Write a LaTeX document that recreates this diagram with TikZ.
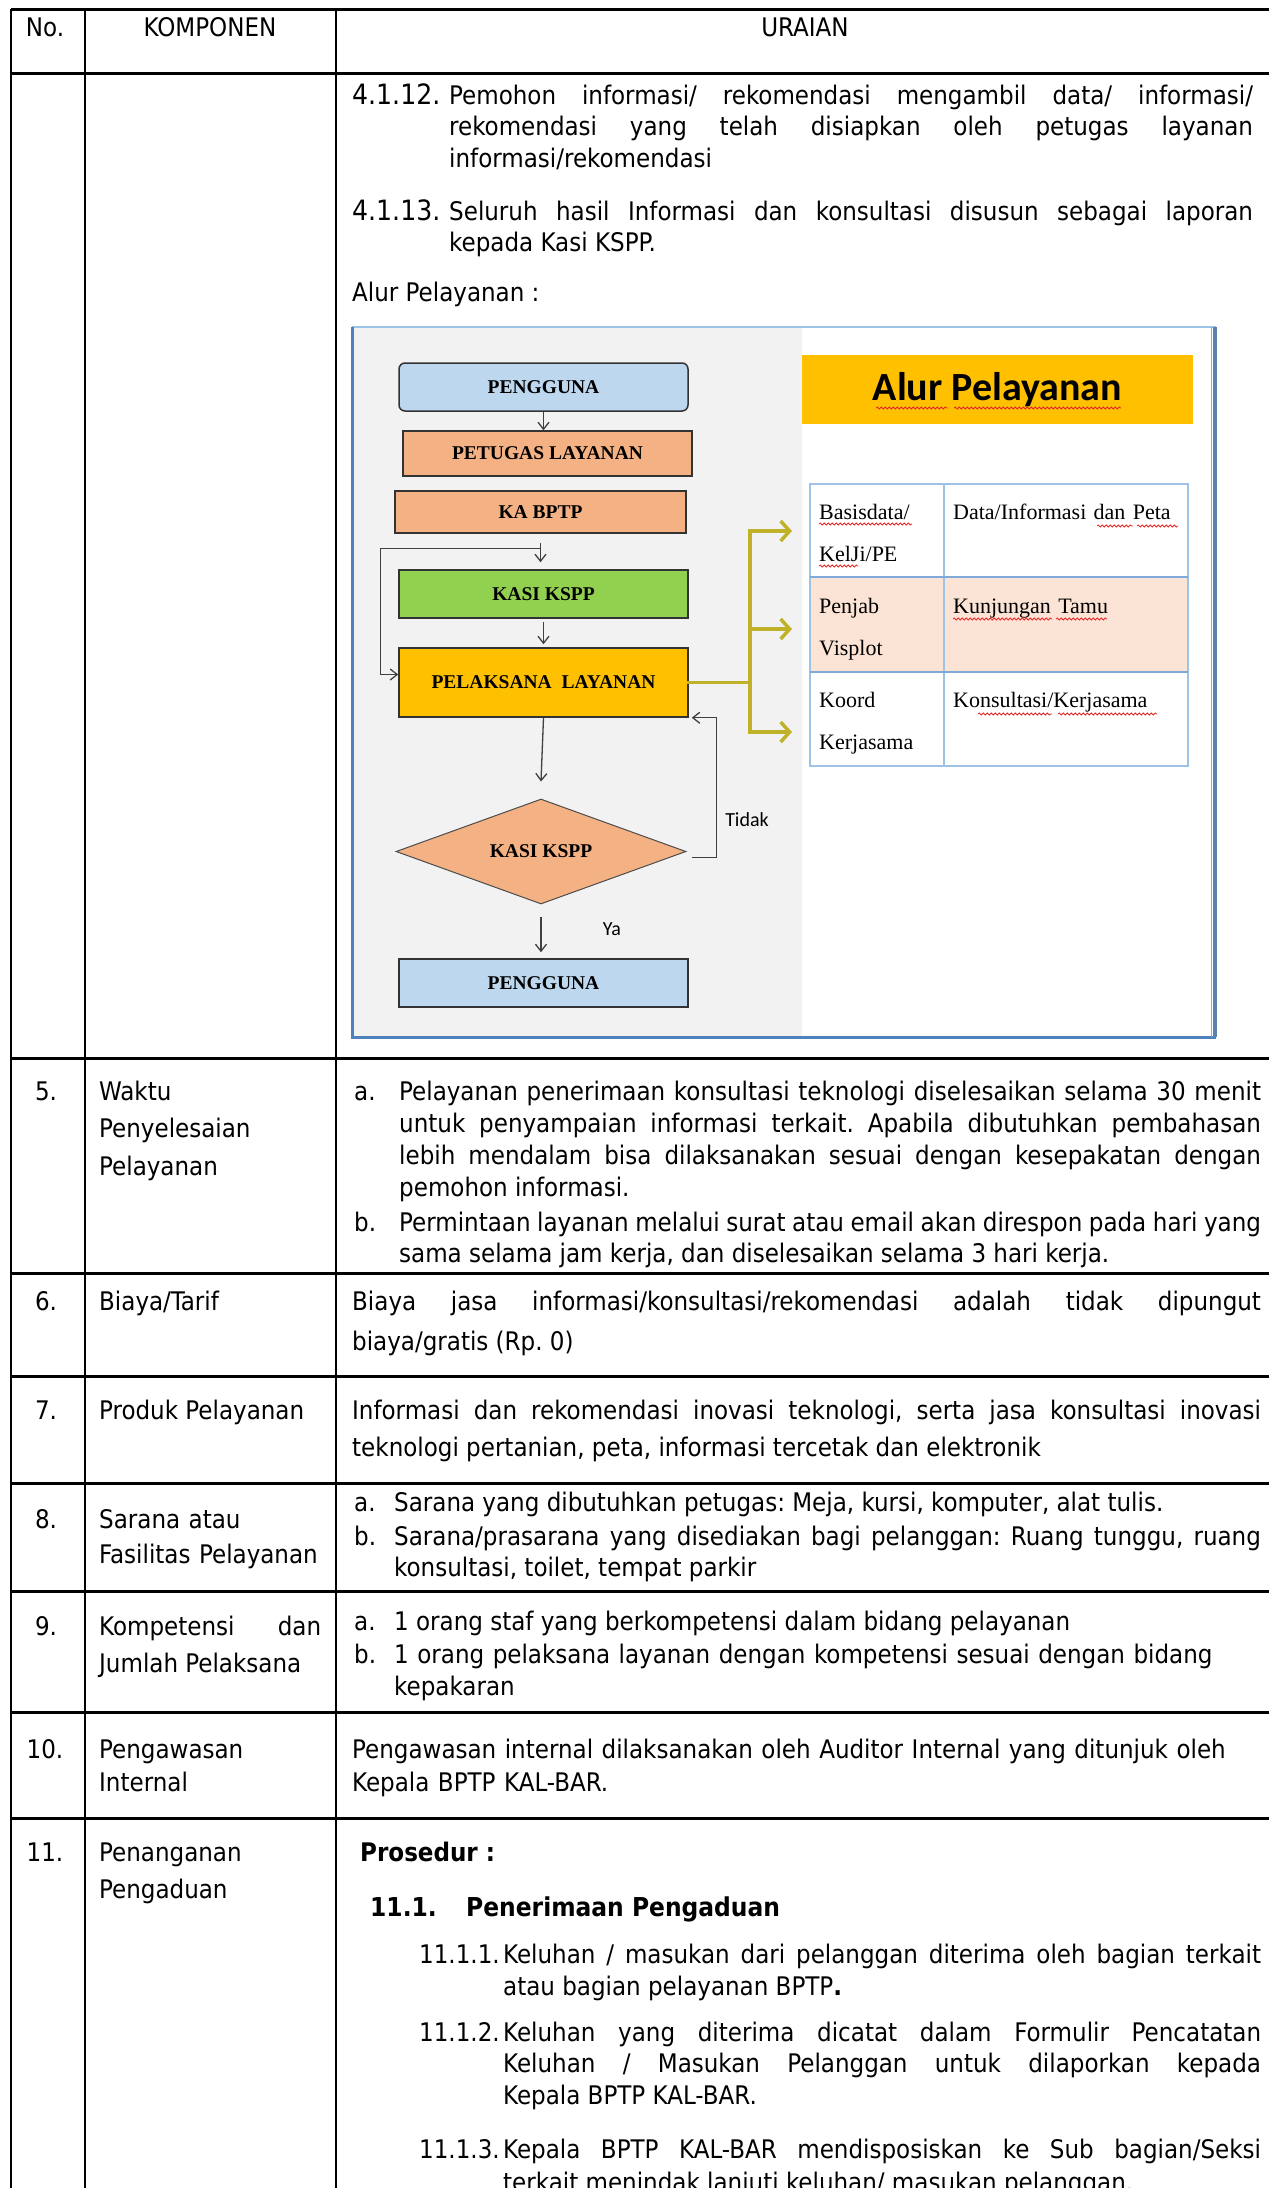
\documentclass[tikz,border=0pt]{standalone}
\usepackage{fontspec}
\setmainfont{DejaVu Sans Condensed}
\newfontfamily\cambria{Liberation Serif}
\newfontfamily\calibri{Carlito}
\usetikzlibrary{arrows.meta,positioning,shapes.geometric,decorations.pathmorphing}
\frenchspacing

\definecolor{userblue}{HTML}{BDD7EE}
\definecolor{staffpeach}{HTML}{F4B183}
\definecolor{kasigreen}{HTML}{92D050}
\definecolor{gold}{HTML}{FFC000}
\definecolor{branch}{RGB}{191,178,41}
\definecolor{panelgray}{HTML}{F2F2F2}
\definecolor{rowpeach}{HTML}{FBE4D5}
\definecolor{gridblue}{HTML}{9DC3E6}
\definecolor{gridrow}{HTML}{7FA9D8}
\definecolor{frameblue}{HTML}{4F81BD}
\definecolor{spellred}{RGB}{230,40,40}

\newcommand{\bodysize}[1]{\fontsize{25.6}{#1}\selectfont}

\begin{document}
\begin{tikzpicture}[
  x=1pt,y=-1pt,
  >={Straight Barb[length=7pt,width=11pt]},
  hrule/.style={line width=3pt},
  vrule/.style={line width=2pt},
  txt/.style={inner sep=0pt,anchor=base west,font=\bodysize{32}},
  numtxt/.style={inner sep=0pt,anchor=base,font=\bodysize{32}},
  para/.style={txt,text width=#1,align=justify},
  ragged/.style={txt,text width=#1,align=left},
  fcbox/.style={draw=black!80,line width=1.5pt,inner sep=0pt,minimum width=289pt,
    font=\cambria\bfseries\fontsize{19.5}{22}\selectfont},
  flow/.style={->,draw=black!75,line width=1.3pt},
  branchline/.style={draw=branch,line width=3.5pt,line cap=rect},
  branchto/.style={branchline,-{Straight Barb[length=9pt,width=20pt]}},
  celltxt/.style={inner sep=0pt,anchor=base west,text width=125pt,align=left,
    font=\cambria\fontsize{22}{42}\selectfont},
  squiggle/.style={draw=spellred,line width=0.8pt,decorate,
    decoration={snake,amplitude=1pt,segment length=4pt}},
  labeltxt/.style={inner sep=0pt,font=\calibri\fontsize{20}{24}\selectfont}
]
\useasboundingbox (0,0) rectangle (1269,2188);
\fill[white] (0,0) rectangle (1269,2188);

% ---- table rules ----
\foreach \y in {9,73,1058,1273,1376,1483,1591,1712,1818}
  \draw[hrule] (11,\y) -- (1269,\y);
\foreach \x in {11,85,336}
  \draw[vrule] (\x,9) -- (\x,2188);

% ---- header ----
\node[numtxt] (hNo) at (45,36) {No.};
\node[numtxt] (hKomp) at (210,36) {KOMPONEN};
\node[numtxt] (hUraian) at (805,36) {URAIAN};

% ---- row 4 (continued) ----
\node[txt,font=\fontsize{28}{32}\selectfont] (lbl4112) at (352,104) {4.1.12.};
\node[para=804pt,font=\bodysize{31.5}] (txt4112) at (449,104)
  {Pemohon informasi/ rekomendasi mengambil data/ informasi/\linebreak
   rekomendasi yang telah disiapkan oleh petugas layanan\linebreak
   informasi/rekomendasi};
\node[txt,font=\fontsize{28}{32}\selectfont] (lbl4113) at (352,220) {4.1.13.};
\node[para=804pt,font=\bodysize{31.5}] (txt4113) at (449,220)
  {Seluruh hasil Informasi dan konsultasi disusun sebagai laporan\linebreak
   kepada Kasi KSPP.};
\node[txt] (alurLbl) at (352,301) {Alur Pelayanan :};

% ---- flowchart screenshot ----
\fill[white] (352,327) rectangle (1216,1037);
\fill[panelgray] (352,327) rectangle (802,1037);
\draw[gridblue,line width=1.5pt] (352,327) -- (1216,327);
\draw[frameblue,line width=3pt] (352,327) -- (352,1037) -- (1216,1037);
\draw[black!35,line width=1pt] (1211,327) -- (1211,1037);
\draw[frameblue!80!gray,line width=4.5pt] (1215,327) -- (1215,1037);

\node[fcbox,fill=userblue,rounded corners=6pt,minimum height=48pt] (user1) at (543.5,387) {PENGGUNA};
\node[fcbox,fill=staffpeach,minimum height=45pt] (petugas) at (547.5,453.5) {PETUGAS LAYANAN};
\node[fcbox,fill=staffpeach,minimum width=291pt,minimum height=42pt] (kabptp) at (540.5,512) {KA BPTP};
\node[fcbox,fill=kasigreen,minimum height=48pt] (kasi) at (543.5,594) {KASI KSPP};
\node[fcbox,fill=gold,minimum height=69pt] (pelaksana) at (543.5,682.5) {PELAKSANA \ LAYANAN};
\node[fcbox,fill=staffpeach,diamond,aspect=2.76,minimum width=290pt,minimum height=105pt,
  draw=black!70,line width=1pt] (decision) at (541,851.5) {KASI KSPP};
\node[fcbox,fill=userblue,minimum height=48pt] (user2) at (543.5,983) {PENGGUNA};

\draw[flow] (user1.south) -- (user1.south |- petugas.north);
\coordinate (loopTop) at ([yshift=-15pt]kabptp.south);
\draw[flow] ([yshift=-9pt]kabptp.south) -- ([yshift=7pt]kabptp.south |- kasi.north);
\draw[flow] (loopTop) -- ++(-160,0) |- ([yshift=8pt]pelaksana.west);
\draw[flow] ([yshift=-3pt]kasi.south) -- ([yshift=3pt]kasi.south |- pelaksana.north);
\draw[flow] (pelaksana.south) -- ([yshift=17pt]decision.north);
\draw[flow] ([yshift=-12pt]decision.south) -- ([yshift=6pt]decision.south |- user2.north);
\draw[flow] ([xshift=5pt,yshift=-6pt]decision.east) -- ++(25,0) |- ([xshift=3pt]pelaksana.south east);
\node[labeltxt] (tidakLbl) at (747,820) {Tidak};
\node[labeltxt] (yaLbl) at (612,929) {Ya};

% branches to the unit table
\coordinate (fork) at (750,682.5);
\coordinate (forkTop) at (750,531);
\coordinate (forkBot) at (750,732);
\coordinate (toA) at (792,531);
\coordinate (toB) at (792,629);
\coordinate (toC) at (792,732);
\draw[branchline] (pelaksana.east) -- (fork);
\draw[branchline] (forkTop) -- (forkBot);
\draw[branchto] (forkTop) -- (toA);
\draw[branchto] (fork |- toB) -- (toB);
\draw[branchto] (forkBot) -- (toC);

% title banner
\node[fill=gold,minimum width=391pt,minimum height=69pt,inner sep=0pt,
  font=\calibri\bfseries\fontsize{40}{44}\selectfont] (banner) at (997.5,389.5) {Alur Pelayanan};
\draw[squiggle] (876,408) -- (948,408);
\draw[squiggle] (954,408) -- (1121,408);

% unit table
\fill[rowpeach] (810,577) rectangle (1188,672);
\draw[gridblue,line width=1.5pt] (810,484) rectangle (1188,766);
\draw[gridblue,line width=1.5pt] (944,484) -- (944,766);
\draw[gridrow,line width=2.5pt] (810,577) -- (1188,577);
\draw[gridrow,line width=2.5pt] (810,672) -- (1188,672);
\node[celltxt] (cellA) at (819,519) {Basisdata/\\KelJi/PE};
\node[celltxt,text width=230pt] (cellAr) at (953,519) {Data/Informasi dan Peta};
\node[celltxt] (cellB) at (819,613) {Penjab\\Visplot};
\node[celltxt,text width=230pt] (cellBr) at (953,613) {Kunjungan Tamu};
\node[celltxt] (cellC) at (819,707) {Koord\\Kerjasama};
\node[celltxt,text width=230pt] (cellCr) at (953,707) {Konsultasi/Kerjasama};
\draw[squiggle] (819,524) -- (912,524);
\draw[squiggle] (819,566) -- (858,566);
\draw[squiggle] (1097,526) -- (1133,526);
\draw[squiggle] (1137,526) -- (1178,526);
\draw[squiggle] (953,619) -- (1052,619);
\draw[squiggle] (1056,619) -- (1107,619);
\draw[squiggle] (978,714) -- (1052,714);
\draw[squiggle] (1058,714) -- (1157,714);

% ---- row 5 ----
\node[numtxt] (no5) at (46,1100) {5.};
\node[ragged=235pt,font=\bodysize{37.5}] (komp5) at (99,1100) {Waktu\\Penyelesaian\\Pelayanan};
\node[txt] (lbl5a) at (354,1100) {a.};
\node[para=862pt,font=\bodysize{32.3}] (txt5a) at (399,1100)
  {Pelayanan penerimaan konsultasi teknologi diselesaikan selama 30 menit\linebreak
   untuk penyampaian informasi terkait. Apabila dibutuhkan pembahasan\linebreak
   lebih mendalam bisa dilaksanakan sesuai dengan kesepakatan dengan\linebreak
   pemohon informasi.};
\node[txt] (lbl5b) at (354,1231) {b.};
\node[para=862pt,font=\bodysize{31}] (txt5b) at (399,1231)
  {{\spaceskip=0.1em plus 0.2em minus 0.02em
   Permintaan layanan melalui surat atau email akan direspon pada hari yang}\linebreak
   sama selama jam kerja, dan diselesaikan selama 3 hari kerja.};

% ---- row 6 ----
\node[numtxt] (no6) at (46,1310) {6.};
\node[txt] (komp6) at (99,1310) {Biaya/Tarif};
\node[para=909pt,font=\bodysize{40}] (txt6) at (352,1310)
  {Biaya jasa informasi/konsultasi/rekomendasi adalah tidak dipungut\linebreak
   biaya/gratis (Rp. 0)};

% ---- row 7 ----
\node[numtxt] (no7) at (46,1419) {7.};
\node[txt] (komp7) at (99,1419) {Produk Pelayanan};
\node[para=909pt,font=\bodysize{37}] (txt7) at (352,1419)
  {Informasi dan rekomendasi inovasi teknologi, serta jasa konsultasi inovasi\linebreak
   teknologi pertanian, peta, informasi tercetak dan elektronik};

% ---- row 8 ----
\node[numtxt] (no8) at (46,1528) {8.};
\node[ragged=240pt,font=\bodysize{35}] (komp8) at (99,1528) {Sarana atau\\Fasilitas Pelayanan};
\node[txt] (lbl8a) at (354,1511) {a.};
\node[txt] (txt8a) at (394,1511) {Sarana yang dibutuhkan petugas: Meja, kursi, komputer, alat tulis.};
\node[txt] (lbl8b) at (354,1545) {b.};
\node[para=867pt,font=\bodysize{31.5}] (txt8b) at (394,1545)
  {Sarana/prasarana yang disediakan bagi pelanggan: Ruang tunggu, ruang\linebreak
   konsultasi, toilet, tempat parkir};

% ---- row 9 ----
\node[numtxt] (no9) at (46,1635) {9.};
\node[para=222pt,font=\bodysize{37}] (komp9) at (99,1635) {Kompetensi dan\linebreak Jumlah Pelaksana};
\node[txt] (lbl9a) at (354,1630) {a.};
\node[txt] (txt9a) at (394,1630) {1 orang staf yang berkompetensi dalam bidang pelayanan};
\node[txt] (lbl9b) at (354,1663) {b.};
\node[ragged=867pt] (txt9b) at (394,1663)
  {1 orang pelaksana layanan dengan kompetensi sesuai dengan bidang\\kepakaran};

% ---- row 10 ----
\node[numtxt] (no10) at (45,1758) {10.};
\node[ragged=235pt,font=\bodysize{33}] (komp10) at (99,1758) {Pengawasan\\Internal};
\node[ragged=909pt,font=\bodysize{33}] (txt10) at (352,1758)
  {Pengawasan internal dilaksanakan oleh Auditor Internal yang ditunjuk oleh\\Kepala BPTP KAL-BAR.};

% ---- row 11 ----
\node[numtxt] (no11) at (45,1861) {11.};
\node[ragged=235pt,font=\bodysize{37}] (komp11) at (99,1861) {Penanganan\\Pengaduan};
\node[txt,font=\bodysize{32}\bfseries] (prosedur) at (360,1861) {Prosedur :};
\node[txt,font=\fontsize{26}{32}\selectfont\bfseries] (lbl111) at (370,1916) {11.1.};
\node[txt,font=\fontsize{26}{32}\selectfont\bfseries] (head111) at (466,1916) {Penerimaan Pengaduan};
\node[txt] (lbl1111) at (419,1963) {11.1.1.};
\node[para=758pt] (txt1111) at (503,1963)
  {\hangindent=35pt\hangafter=1
   Keluhan / masukan dari pelanggan diterima oleh bagian terkait\linebreak
   atau bagian pelayanan BPTP\textbf{.}};
\node[txt] (lbl1112) at (419,2041) {11.1.2.};
\node[para=758pt,font=\bodysize{31.5}] (txt1112) at (503,2041)
  {\hangindent=35pt\hangafter=1
   Keluhan yang diterima dicatat dalam Formulir Pencatatan\linebreak
   Keluhan / Masukan Pelanggan untuk dilaporkan kepada\linebreak
   Kepala BPTP KAL-BAR.};
\node[txt] (lbl1113) at (419,2158) {11.1.3.};
\node[para=758pt,font=\bodysize{33}] (txt1113) at (503,2158)
  {\hangindent=35pt\hangafter=1
   Kepala BPTP KAL-BAR mendisposiskan ke Sub bagian/Seksi\linebreak
   terkait menindak lanjuti keluhan/ masukan pelanggan.};
\end{tikzpicture}
\end{document}
